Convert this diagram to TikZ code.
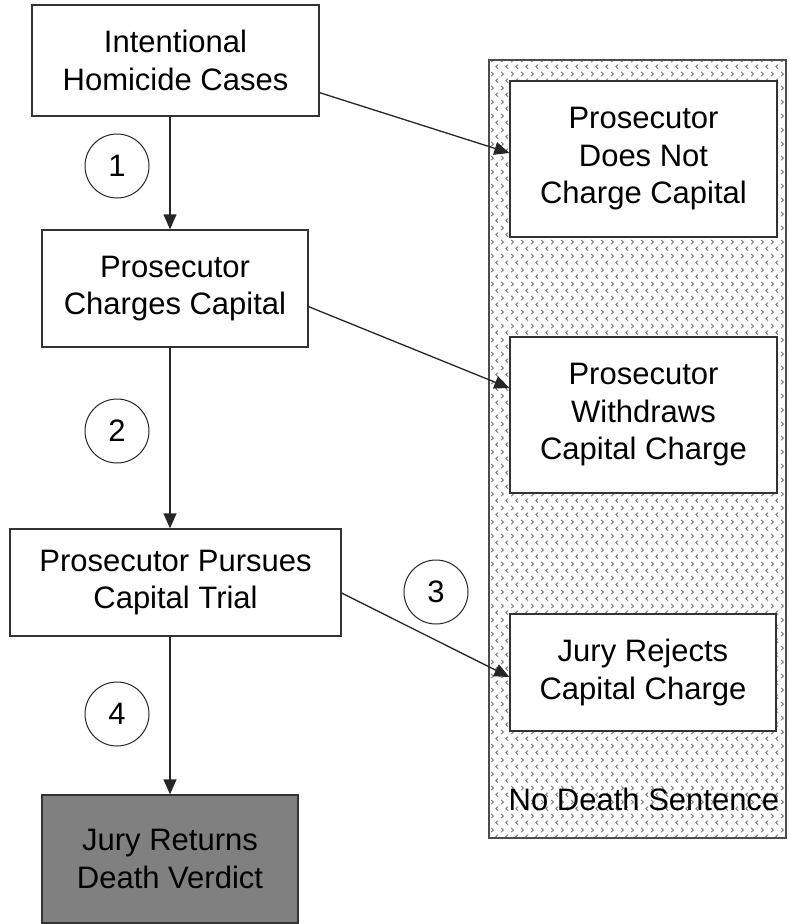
\documentclass[tikz,border=0pt]{standalone}
\usepackage{fontspec}
\setmainfont{Liberation Sans}
\usetikzlibrary{arrows.meta,patterns}

% small chevrons for the shaded area
\pgfdeclarepatternformonly{chevrons}{\pgfqpoint{0pt}{0pt}}{\pgfqpoint{9.6pt}{14pt}}{\pgfqpoint{9.6pt}{14pt}}{%
  \pgfsetlinewidth{0.9pt}
  \pgfpathmoveto{\pgfqpoint{1.2pt}{12.8pt}}
  \pgfpathlineto{\pgfqpoint{3.6pt}{10.6pt}}
  \pgfpathlineto{\pgfqpoint{1.2pt}{8.4pt}}
  \pgfpathmoveto{\pgfqpoint{8.4pt}{5.8pt}}
  \pgfpathlineto{\pgfqpoint{6pt}{3.6pt}}
  \pgfpathlineto{\pgfqpoint{8.4pt}{1.4pt}}
  \pgfusepath{stroke}}

\begin{document}
\begin{tikzpicture}[x=1pt,y=-1pt,
    box/.style={draw=black!80,line width=1.3pt,fill=white,align=center,inner sep=0pt,
                font=\fontsize{31}{37.5}\selectfont},
    num/.style={draw=black!85,circle,line width=1pt,minimum size=64pt,inner sep=0pt,
                font=\fontsize{31}{37.5}\selectfont},
    arr/.style={draw=black!85,line width=1.3pt,-{Triangle[length=15pt,width=13pt]}}]

        \useasboundingbox (0,0) rectangle (788,924);

        % No death sentence area
        \draw[line width=1.3pt,draw=black!70,pattern=chevrons,pattern color=black!55]
            (489,60) rectangle (786,838);
        \node[anchor=base,font=\fontsize{31}{37.5}\selectfont] (nods) at (644,810) {No Death Sentence};

        % Main line
        \node[box,minimum width=287pt,minimum height=111pt] (hom) at (175.5,60.5) {Intentional\\Homicide Cases};
        \node[box,minimum width=266pt,minimum height=117pt] (chg) at (175,288.5) {Prosecutor\\Charges Capital};
        \node[box,minimum width=331pt,minimum height=107pt] (pur) at (175.5,582.5) {Prosecutor Pursues\\Capital Trial};
        \node[box,minimum width=256pt,minimum height=128pt,fill=black!50] (ver) at (170,859) {Jury Returns\\Death Verdict};

        % Exits
        \node[box,minimum width=267pt,minimum height=156pt] (not) at (643.5,159) {Prosecutor\\Does Not\\Charge Capital};
        \node[box,minimum width=267pt,minimum height=156pt] (wdr) at (643.5,415) {Prosecutor\\Withdraws\\Capital Charge};
        \node[box,minimum width=266pt,minimum height=117pt] (rej) at (643,672.5) {Jury Rejects\\Capital Charge};

        % Arrows
        \draw[arr] (hom.south -| ver.north) -- (chg.north -| ver.north);
        \draw[arr] (chg.south -| ver.north) -- (pur.north -| ver.north);
        \draw[arr] (pur.south -| ver.north) -- (ver.north);
        \draw[arr] ([yshift=24pt]hom.south east) -- ([yshift=6pt]not.west);
        \draw[arr] ([yshift=41pt]chg.south east) -- ([yshift=27pt]wdr.west);
        \draw[arr] ([yshift=-10.5pt]pur.east) -- ([yshift=-4.5pt]rej.west);

        % Step numbers
        \foreach \k/\px/\py in {1/117/166, 2/117/431, 3/436/592, 4/117/714} {
            \node[num] (n\k) at (\px,\py) {\k};
        }

\end{tikzpicture}
\end{document}
